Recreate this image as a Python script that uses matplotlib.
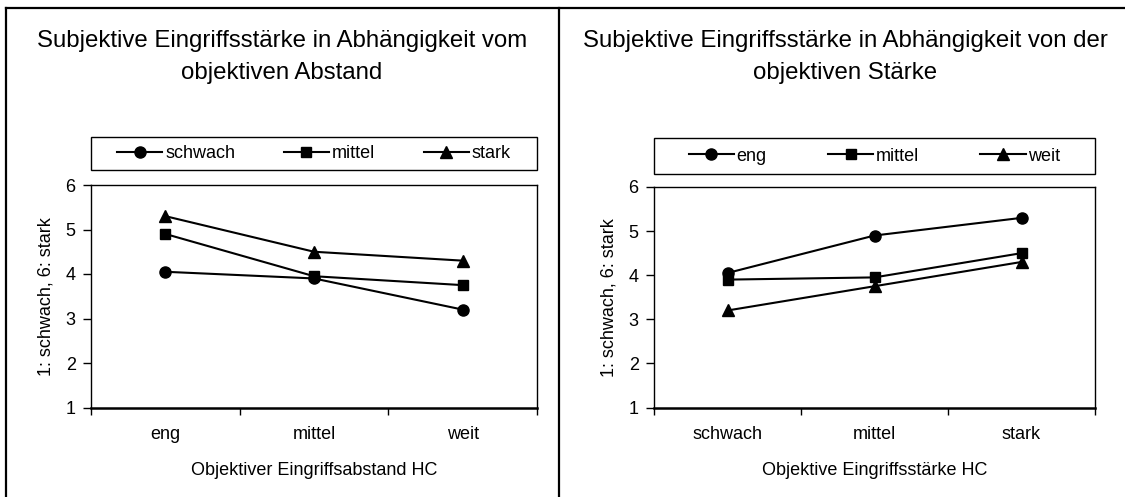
import matplotlib
matplotlib.use('Agg')
import matplotlib.pyplot as plt
from matplotlib.lines import Line2D
from matplotlib.patches import Rectangle

plt.rcParams['font.family'] = ['Liberation Sans', 'DejaVu Sans']

# data
abstand = ['eng', 'mittel', 'weit']
staerke = ['schwach', 'mittel', 'stark']
# left chart: series = objective strength, x = objective distance
left_schwach = [4.05, 3.9, 3.2]
left_mittel = [4.9, 3.95, 3.75]
left_stark = [5.3, 4.5, 4.3]
# right chart: series = objective distance, x = objective strength
right_eng = [4.05, 4.9, 5.3]
right_mittel = [3.9, 3.95, 4.5]
right_weit = [3.2, 3.75, 4.3]

title_left = 'Subjektive Eingriffsstärke in Abhängigkeit vom\nobjektiven Abstand'
title_right = 'Subjektive Eingriffsstärke in Abhängigkeit von der\nobjektiven Stärke'
xlabel_left = 'Objektiver Eingriffsabstand HC'
xlabel_right = 'Objektive Eingriffsstärke HC'
ylabel = '1: schwach, 6: stark'

W, H = 1125, 497
fig = plt.figure(figsize=(W / 100, H / 100), dpi=100)


def px(x0, y0, x1, y1):
    # pixel box (top-left origin) -> figure fraction [l, b, w, h]
    return [x0 / W, 1 - y1 / H, (x1 - x0) / W, (y1 - y0) / H]


def draw_panel(rect, cats, series, names, xlabel, title, title_x, legbox, colsp):
    ax = fig.add_axes(px(*rect))
    markers = ['o', 's', '^']
    msizes = [8, 7, 8]
    handles = []
    for vals, name, m, ms in zip(series, names, markers, msizes):
        h, = ax.plot(range(len(cats)), vals, color='black', lw=1.5,
                     marker=m, markersize=ms, label=name)
        handles.append(h)
    ax.set_xlim(-0.5, len(cats) - 0.5)
    ax.set_ylim(1, 6)
    ax.set_yticks([1, 2, 3, 4, 5, 6])
    ax.set_xticks(range(len(cats)))
    ax.set_xticklabels(cats)
    ax.set_xticks([-0.5, 0.5, 1.5, 2.5], minor=True)
    ax.tick_params(axis='x', which='major', length=0, pad=13, labelsize=13)
    ax.tick_params(axis='x', which='minor', length=5, width=1, direction='out')
    ax.tick_params(axis='y', length=6, width=1, direction='out', pad=5, labelsize=13)
    for s in ax.spines.values():
        s.set_linewidth(1)
    ax.spines['bottom'].set_linewidth(1.8)
    ax.set_xlabel(xlabel, fontsize=13, labelpad=14)
    ax.set_ylabel(ylabel, fontsize=13, labelpad=8)

    # legend box above the plot
    bx0, by0, bx1, by1 = legbox
    fig.add_artist(Rectangle((bx0 / W, 1 - by1 / H), (bx1 - bx0) / W, (by1 - by0) / H,
                             transform=fig.transFigure, fill=False, edgecolor='black', lw=1))
    fig.legend(handles=handles, loc='center', ncol=3, frameon=False, fontsize=13,
               bbox_to_anchor=((bx0 + bx1) / 2 / W, 1 - (by0 + by1) / 2 / H),
               handlelength=2.5, handletextpad=0.15, columnspacing=colsp)

    fig.text(title_x / W, 1 - 57 / H, title, ha='center', va='center',
             fontsize=17.3, linespacing=1.55, multialignment='center')
    return ax


draw_panel((91, 185, 537, 407.5), abstand, [left_schwach, left_mittel, left_stark],
           ['schwach', 'mittel', 'stark'], xlabel_left, title_left, 282,
           (91, 137, 537, 170), 2.7)
draw_panel((654, 187, 1095, 407.5), staerke, [right_eng, right_mittel, right_weit],
           ['eng', 'mittel', 'weit'], xlabel_right, title_right, 845,
           (654, 138, 1095, 174), 3.4)

# panel borders
for xs, ys in [((6, 6), (8, H)), ((6, W), (8, 8)), ((559, 559), (8, H))]:
    fig.add_artist(Line2D([x / W for x in xs], [1 - y / H for y in ys],
                          transform=fig.transFigure, color='black', lw=1.6))

fig.savefig('out.png', dpi=100)
